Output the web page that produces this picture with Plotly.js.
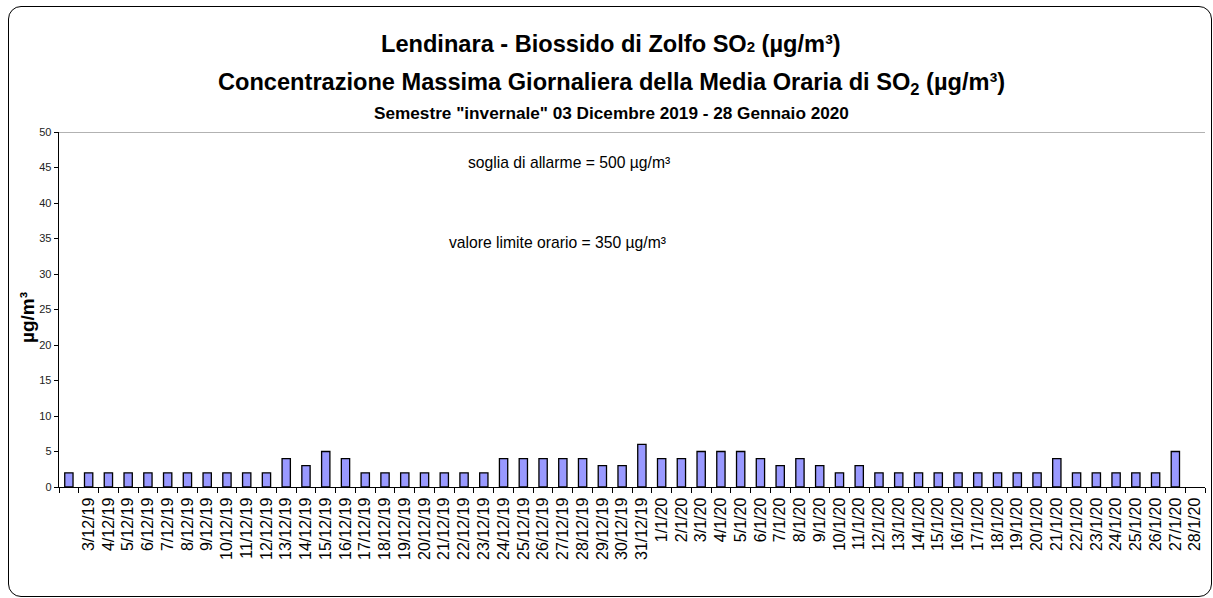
<!DOCTYPE html>
<html>
<head>
<meta charset="utf-8">
<script src="https://cdn.plot.ly/plotly-3.0.1.min.js"></script>
<style>
  html, body { margin: 0; padding: 0; background: #fff; }
  #chart { width: 1213px; height: 598px; position: absolute; left: 0; top: 0; }
  #frame { position: absolute; left: 8px; top: 6px; width: 1204px; height: 591px; box-sizing: border-box;
           border: 1.3px solid #000; border-radius: 13px; pointer-events: none; z-index: 5; }
</style>
</head>
<body>
<div id="chart"></div>
<div id="frame"></div>
<script>
// Category labels (first slot has no label in the original)
const dayLabels = [" ",
  "3/12/19","4/12/19","5/12/19","6/12/19","7/12/19","8/12/19","9/12/19","10/12/19","11/12/19","12/12/19",
  "13/12/19","14/12/19","15/12/19","16/12/19","17/12/19","18/12/19","19/12/19","20/12/19","21/12/19","22/12/19",
  "23/12/19","24/12/19","25/12/19","26/12/19","27/12/19","28/12/19","29/12/19","30/12/19","31/12/19",
  "1/1/20","2/1/20","3/1/20","4/1/20","5/1/20","6/1/20","7/1/20","8/1/20","9/1/20","10/1/20",
  "11/1/20","12/1/20","13/1/20","14/1/20","15/1/20","16/1/20","17/1/20","18/1/20","19/1/20","20/1/20",
  "21/1/20","22/1/20","23/1/20","24/1/20","25/1/20","26/1/20","27/1/20","28/1/20"];

// Daily max of hourly mean SO2 (µg/m³)
const so2Values = [2,
  2,2,2,2,2,2,2,2,2,2,
  4,3,5,4,2,2,2,2,2,2,
  2,4,4,4,4,4,3,3,6,
  4,4,5,5,5,4,3,4,3,2,
  3,2,2,2,2,2,2,2,2,2,
  4,2,2,2,2,2,5,null];

const yTicks = [0,5,10,15,20,25,30,35,40,45,50];

const titleLine1 = "Lendinara - Biossido di Zolfo SO<span style='font-size:15px'>2</span> (µg/m³)";
const titleLine2 = "Concentrazione Massima Giornaliera della Media Oraria di SO<sub>2</sub> (µg/m³)";
const titleLine3 = "Semestre \"invernale\" 03 Dicembre 2019 - 28 Gennaio 2020";
const noteAlarm = "soglia di allarme = 500 µg/m³";
const noteLimit = "valore limite orario = 350 µg/m³";
const yTitle = "µg/m³";

const FONT = "'Liberation Sans', Arial, sans-serif";

const trace = {
  type: "bar",
  x: dayLabels,
  y: so2Values,
  marker: { color: "#9999FF", line: { color: "#000000", width: 1.3 } },
  hoverinfo: "x+y"
};

const layout = {
  width: 1213, height: 598,
  margin: { l: 59, r: 8, t: 132, b: 111 },
  paper_bgcolor: "rgba(0,0,0,0)",
  plot_bgcolor: "#ffffff",
  bargap: 0.58,
  showlegend: false,
  font: { family: FONT, color: "#000" },
  xaxis: {
    type: "category",
    tickson: "boundaries",
    ticks: "outside", ticklen: 5, tickcolor: "#000", tickwidth: 1,
    tickangle: -90,
    ticklabelstandoff: 3,
    tickfont: { family: FONT, size: 16, color: "#000" },
    showline: true, linecolor: "#000", linewidth: 1.3,
    showgrid: false, zeroline: false,
    fixedrange: true
  },
  yaxis: {
    range: [0, 50],
    tickvals: yTicks,
    ticktext: yTicks.map(String),
    ticks: "outside", ticklen: 4, tickcolor: "#000",
    tickfont: { family: FONT, size: 11, color: "#222" },
    showline: true, linecolor: "#000", linewidth: 1.3,
    showgrid: false, zeroline: false,
    fixedrange: true
  },
  shapes: [
    { type: "line", xref: "paper", yref: "y", x0: 0, x1: 1, y0: 50, y1: 50,
      line: { color: "#999999", width: 1.5 } }
  ],
  annotations: [
    { text: "<b>" + titleLine1 + "</b>", xref: "paper", yref: "paper", x: 0.482, y: 1.2465,
      xanchor: "center", yanchor: "middle", showarrow: false, font: { family: FONT, size: 23.6 } },
    { text: "<b>" + titleLine2 + "</b>", xref: "paper", yref: "paper", x: 0.482, y: 1.135,
      xanchor: "center", yanchor: "middle", showarrow: false, font: { family: FONT, size: 23.6 } },
    { text: "<b>" + titleLine3 + "</b>", xref: "paper", yref: "paper", x: 0.482, y: 1.054,
      xanchor: "center", yanchor: "middle", showarrow: false, font: { family: FONT, size: 17.2 } },
    { text: noteAlarm, xref: "paper", yref: "paper", x: 0.445, y: 0.913,
      xanchor: "center", yanchor: "middle", showarrow: false, font: { family: FONT, size: 15.7 } },
    { text: noteLimit, xref: "paper", yref: "paper", x: 0.4346, y: 0.690,
      xanchor: "center", yanchor: "middle", showarrow: false, font: { family: FONT, size: 15.7 } },
    { text: "<b>" + yTitle + "</b>", xref: "paper", yref: "paper", x: -0.0279, y: 0.476,
      xanchor: "center", yanchor: "middle", textangle: -90, showarrow: false,
      font: { family: FONT, size: 19 } }
  ]
};

Plotly.newPlot("chart", [trace], layout, { displayModeBar: false, staticPlot: true });
</script>
</body>
</html>
